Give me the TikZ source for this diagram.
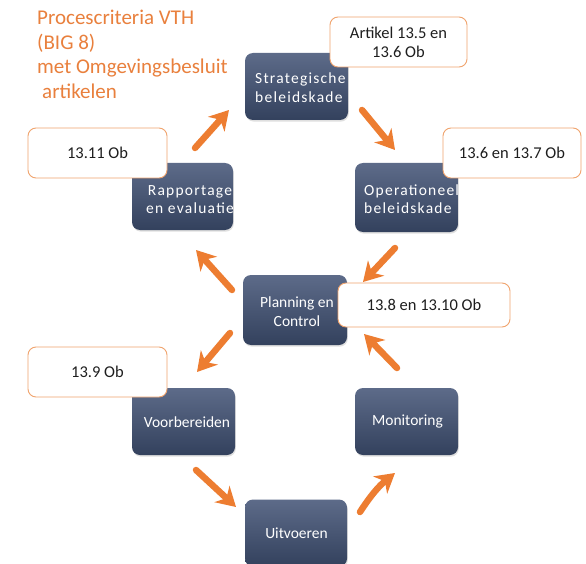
\documentclass[tikz,border=0pt]{standalone}
\usepackage{fontspec}
\setmainfont{Carlito}
\newfontfamily\spacedfont[LetterSpace=8]{Carlito}
\usetikzlibrary{arrows.meta,shadows}
\definecolor{orangeA}{HTML}{ED7D31}
\definecolor{titleor}{HTML}{E9803D}
\definecolor{callbd}{HTML}{F0A46E}
\definecolor{boxtop}{HTML}{5D6B89}
\definecolor{boxbot}{HTML}{33415D}
\definecolor{txtdark}{HTML}{1E1E1E}
\tikzset{
  darkbox/.style={rounded corners=8pt, top color=boxtop, bottom color=boxbot, draw=none, inner sep=0pt,
    drop shadow={opacity=0.25, shadow xshift=0.8pt, shadow yshift=-1.6pt}},
  dtxt/.style={text=white, font=\fontsize{15.5}{18.5}\selectfont, align=center},
  stxt/.style={text=white, font=\spacedfont\fontsize{15.5}{18.5}\selectfont, inner sep=0pt},
  callout/.style={rounded corners=8pt, draw=callbd, line width=0.9pt, fill=white, text=txtdark,
    font=\fontsize{16.5}{19}\selectfont, align=center, inner sep=0pt},
  titletxt/.style={anchor=base west, text=titleor, font=\fontsize{21}{25}\selectfont, inner sep=0pt},
  flow/.style={draw=orangeA, line width=6.5pt, line cap=round, -{Stealth[length=19pt,width=22pt,inset=6pt]}},
}
\begin{document}
\begin{tikzpicture}[x=1pt,y=-1pt]
\useasboundingbox (0,0) rectangle (586,564);
\fill[white] (0,0) rectangle (586,564);

% title
\node[titletxt] (t1) at (37,25) {Procescriteria VTH};
\node[titletxt] (t2) at (37,49.5) {(BIG 8)};
\node[titletxt] (t3) at (37,74) {met Omgevingsbesluit};
\node[titletxt] (t4) at (42,98.5) {artikelen};

% dark process boxes
\node[darkbox, minimum width=103pt, minimum height=67pt] (str) at (296.5,86.5) {};
\begin{scope}
\clip[rounded corners=8pt] (str.south west) rectangle (str.north east);
\node[stxt, anchor=west, align=left] (strt) at (255,87.5) {Strategische\\beleidskade};
\end{scope}

\node[darkbox, minimum width=103pt, minimum height=69pt] (ope) at (406.5,197.5) {};
\begin{scope}
\clip[rounded corners=8pt] (ope.south west) rectangle (ope.north east);
\node[stxt, anchor=west, align=left] (opet) at (364,199) {Operationeel\\beleidskade};
\end{scope}

\node[darkbox, minimum width=101pt, minimum height=67pt] (rap) at (182.5,196.5) {};
\begin{scope}
\clip[rounded corners=8pt] (rap.south west) rectangle (rap.north east);
\node[stxt, align=center] (rapt) at (190,199.5) {Rapportage\\en evaluatie};
\end{scope}

\node[darkbox, minimum width=104pt, minimum height=70pt] (pla) at (295,310) {};
\node[dtxt] (plat) at (297,311.5) {Planning en\\Control};

\node[darkbox, minimum width=103pt, minimum height=67pt] (voo) at (183.5,421.5) {};
\node[dtxt] (voot) at (187,422) {Voorbereiden};

\node[darkbox, minimum width=103pt, minimum height=67pt] (mon) at (406.5,421.5) {};
\node[dtxt] (mont) at (407.5,421.7) {Monitoring};

\node[darkbox, minimum width=102pt, minimum height=67pt] (uit) at (296,533) {};
\node[dtxt] (uitt) at (296.5,533) {Uitvoeren};

% callouts
\node[callout, minimum width=137pt, minimum height=50pt] (c1) at (398.5,42) {Artikel 13.5 en\\13.6 Ob};
\node[callout, minimum width=139pt, minimum height=50pt] (c2) at (97.5,153) {13.11 Ob};
\node[callout, minimum width=138pt, minimum height=50pt] (c3) at (512,153) {13.6 en 13.7 Ob};
\node[callout, minimum width=172pt, minimum height=44pt] (c4) at (424,305) {13.8 en 13.10 Ob};
\node[callout, minimum width=139pt, minimum height=50pt] (c5) at (97.5,372) {13.9 Ob};

% arrows
\coordinate (a1s) at (195,148); \coordinate (a1e) at (229,110);
\coordinate (a2s) at (362,110); \coordinate (a2e) at (395,150);
\coordinate (a3s) at (395,248); \coordinate (a3e) at (363,282);
\coordinate (a4s) at (232,290); \coordinate (a4e) at (196,250);
\coordinate (a5s) at (230,333); \coordinate (a5e) at (197,372);
\coordinate (a6s) at (196,470); \coordinate (a6e) at (236,507);
\coordinate (a7s) at (360,512); \coordinate (a7e) at (395,473);
\coordinate (a8s) at (397,368); \coordinate (a8e) at (364,334);
\draw[flow] (a1s) -- (a1e);
\draw[flow] (a2s) -- (a2e);
\draw[flow] (a3s) -- (a3e);
\draw[flow] (a4s) -- (a4e);
\draw[flow] (a5s) -- (a5e);
\draw[flow] (a6s) -- (a6e);
\draw[flow] (a7s) to[bend left=9] (a7e);
\draw[flow] (a8s) -- (a8e);
\end{tikzpicture}
\end{document}
